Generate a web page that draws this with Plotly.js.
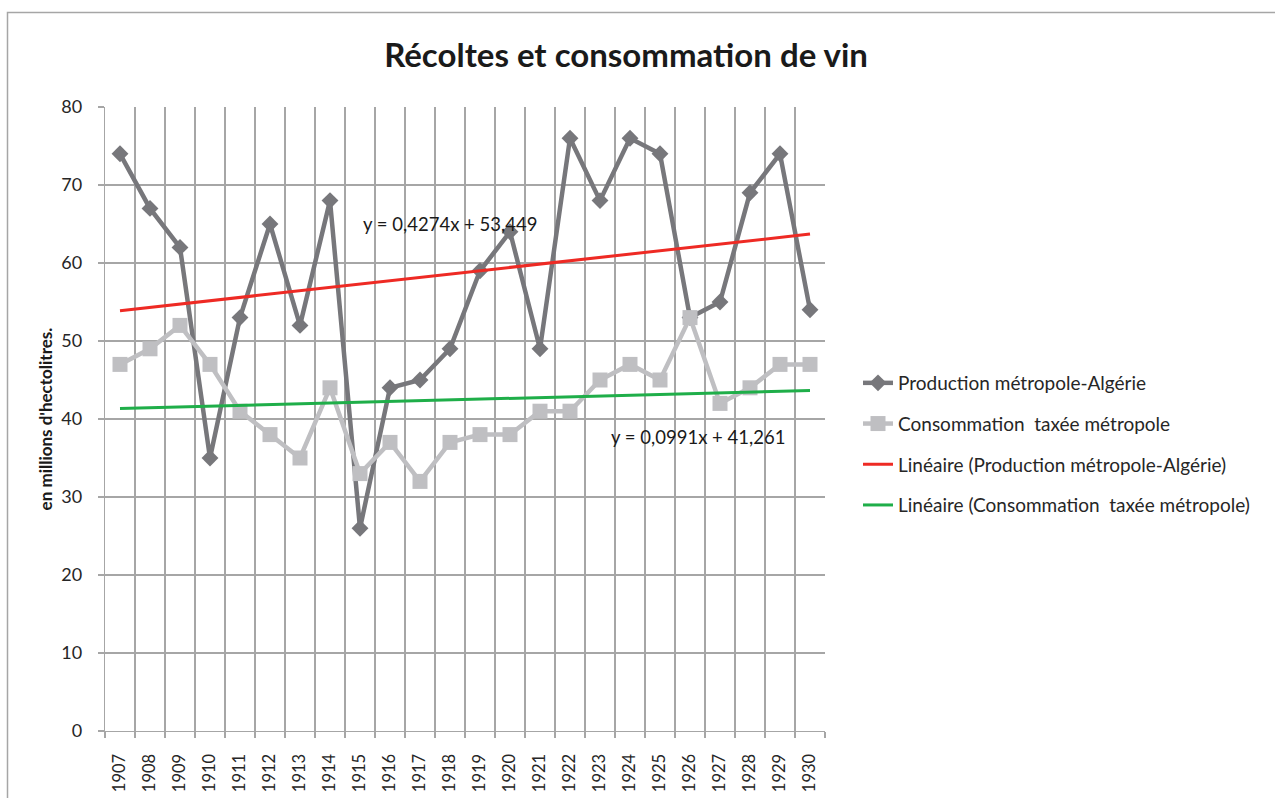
<!DOCTYPE html>
<html>
<head>
<meta charset="utf-8">
<script src="https://cdn.plot.ly/plotly-3.0.1.min.js"></script>
<style>
  html, body { margin: 0; padding: 0; background: #fff; }
  #chart { width: 1275px; height: 798px; }
</style>
</head>
<body>
<div id="chart"></div>
<script>
// ---- data ----
const years = ['1907','1908','1909','1910','1911','1912','1913','1914','1915','1916','1917','1918',
               '1919','1920','1921','1922','1923','1924','1925','1926','1927','1928','1929','1930'];
const production = [74, 67, 62, 35, 53, 65, 52, 68, 26, 44, 45, 49,
                    59, 64, 49, 76, 68, 76, 74, 53, 55, 69, 74, 54];
const consommation = [47, 49, 52, 47, 41, 38, 35, 44, 33, 37, 32, 37,
                      38, 38, 41, 41, 45, 47, 45, 53, 42, 44, 47, 47];
// trend line end points (first and last year), as read / per displayed equations
const trendYears = ['1907', '1930'];
const trendProduction = [53.88, 63.71];
const trendConsommation = [41.36, 43.64];
const eqProduction = 'y = 0,4274x + 53,449';
const eqConsommation = 'y = 0,0991x + 41,261';

const seriesNames = ['Production métropole-Algérie', 'Consommation  taxée métropole',
  'Linéaire (Production métropole-Algérie)', 'Linéaire (Consommation  taxée métropole)'];

const FONT = 'Lato, "Open Sans", "Liberation Sans", sans-serif';
const GRID = '#a6a6a6';

const traces = [
  { x: years, y: production, name: seriesNames[0], type: 'scatter', mode: 'lines+markers',
    legendgroup: 'a',
    line: { color: '#77777b', width: 4.5 },
    marker: { symbol: 'diamond', size: 13, color: '#77777b' } },
  { x: years, y: consommation, name: seriesNames[1], type: 'scatter', mode: 'lines+markers',
    legendgroup: 'b',
    line: { color: '#bfbfc2', width: 4.5 },
    marker: { symbol: 'square', size: 15, color: '#bfbfc2' } },
  { x: trendYears, y: trendProduction, name: seriesNames[2], type: 'scatter', mode: 'lines',
    legendgroup: 'c',
    line: { color: '#ee2a24', width: 3 } },
  { x: trendYears, y: trendConsommation, name: seriesNames[3], type: 'scatter', mode: 'lines',
    legendgroup: 'd',
    line: { color: '#1fae49', width: 3 } }
];

// plot area: x 105..825, y 107..731
const W = 1275, H = 798, ML = 105, MR = 450, MT = 107, MB = 67;
const pw = W - ML - MR, ph = H - MT - MB;
const px = v => (v - ML) / pw;
const py = v => 1 - (v - MT) / ph;

const layout = {
  width: W, height: H,
  margin: { l: ML, r: MR, t: MT, b: MB, pad: 0 },
  paper_bgcolor: '#ffffff', plot_bgcolor: '#ffffff',
  font: { family: FONT, color: '#262626', size: 19 },
  title: { text: '<b>Récoltes et consommation de vin</b>',
           font: { family: FONT, size: 33, color: '#1a1a1a' },
           xref: 'container', x: 0.491, xanchor: 'center',
           yref: 'container', y: 1 - 55 / H, yanchor: 'middle' },
  xaxis: {
    type: 'category', range: [-0.5, 23.5],
    tickson: 'boundaries', ticks: 'outside', ticklen: 6, tickcolor: GRID, tickwidth: 1.3,
    showgrid: true, gridcolor: GRID, gridwidth: 1.3,
    showline: true, linecolor: GRID, linewidth: 1.3,
    tickangle: -90, ticklabelstandoff: 15,
    tickfont: { family: FONT, size: 16.5, color: '#262626' },
    fixedrange: true, automargin: false
  },
  yaxis: {
    range: [0, 80], dtick: 10, tick0: 0,
    ticks: 'outside', ticklen: 6, tickcolor: GRID, tickwidth: 1.3,
    showgrid: true, gridcolor: GRID, gridwidth: 1.3,
    showline: true, linecolor: GRID, linewidth: 1.3, zeroline: false,
    ticklabelstandoff: 12,
    tickfont: { family: FONT, size: 18, color: '#262626' },
    title: { text: "<b>en millions d'hectolitres.</b>", font: { family: FONT, size: 17, color: '#1a1a1a' },
             standoff: 4 },
    fixedrange: true, automargin: false
  },
  showlegend: true,
  legend: {
    x: px(858), y: py(364), xanchor: 'left', yanchor: 'top',
    font: { family: FONT, size: 19, color: '#262626' },
    traceorder: 'grouped', tracegroupgap: 13,
    bgcolor: 'rgba(0,0,0,0)'
  },
  annotations: [
    { x: 11, y: 65, xref: 'x', yref: 'y', text: eqProduction, showarrow: false,
      font: { family: FONT, size: 18.5, color: '#1a1a1a' } },
    { x: 19.27, y: 37.7, xref: 'x', yref: 'y', text: eqConsommation, showarrow: false,
      font: { family: FONT, size: 18.5, color: '#1a1a1a' } }
  ],
  shapes: [
    { type: 'rect', xref: 'paper', yref: 'paper', layer: 'below',
      x0: px(7.5), x1: px(1290), y0: py(810), y1: py(12.5),
      line: { color: '#a6a6a6', width: 1.5 }, fillcolor: 'rgba(0,0,0,0)' }
  ]
};

Plotly.newPlot('chart', traces, layout, { displayModeBar: false, staticPlot: true });
</script>
</body>
</html>
